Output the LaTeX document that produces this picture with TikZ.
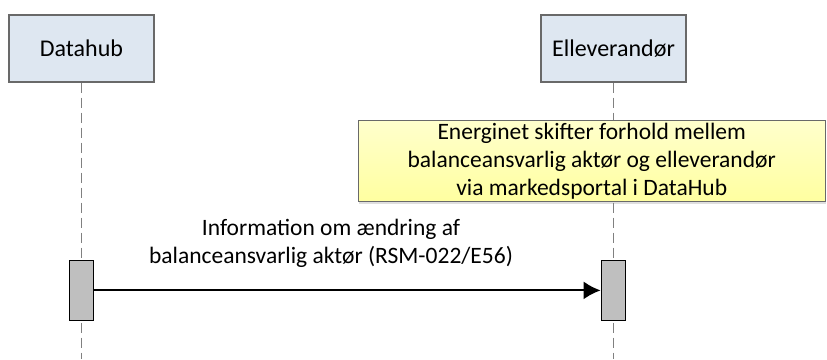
\documentclass[tikz,border=0pt]{standalone}
\usepackage{fontspec}
\setmainfont{Carlito}
\usepackage{tikz}
\usetikzlibrary{positioning,arrows.meta,shadows}
\definecolor{actorblue}{RGB}{222,231,241}
\definecolor{actorline}{RGB}{105,105,105}
\definecolor{bargray}{RGB}{191,191,191}
\definecolor{notetop}{RGB}{255,255,204}
\definecolor{notebot}{RGB}{255,255,160}
\definecolor{lifegray}{RGB}{128,128,128}

\begin{document}
\begin{tikzpicture}[x=1pt,y=-1pt,>={Latex[length=17pt,width=18pt]},
    every node/.style={font=\fontsize{23.5}{28}\selectfont},
    actor/.style={draw=actorline,fill=actorblue,line width=1.3pt,minimum width=145pt,minimum height=67pt,inner sep=0pt},
    bar/.style={draw=black,fill=bargray,line width=1.3pt,minimum width=24.5pt,minimum height=60.5pt,inner sep=0pt},
    lifeline/.style={draw=lifegray,line width=1pt,dash pattern=on 10pt off 5pt}]
    \useasboundingbox (0,0) rectangle (827,359);
    \node[actor] (dh) at (81.5,48.5) {\fontsize{24}{28}\selectfont Datahub};
    \node[actor] (el) at (613.5,48.5) {\fontsize{24}{28}\selectfont Elleverandør};
    \coordinate (dhend) at (81.5,359);
    \coordinate (elend) at (613.5,359);
    \draw[lifeline] (dh.south) -- (dhend);
    \draw[lifeline] (el.south) -- (elend);
    \node[draw=actorline,line width=1pt,top color=notetop,bottom color=notebot,
      minimum width=466.7pt,minimum height=81pt,inner sep=0pt,align=center,
      drop shadow={shadow xshift=1pt,shadow yshift=-2pt,opacity=0.25}]
      (note) at (591.7,161.2) {Energinet skifter forhold mellem\\balanceansvarlig aktør og elleverandør\\via markedsportal i DataHub};
    \node[bar] (a1) at (81.5,290.4) {};
    \node[bar] (a2) at (613.5,290.4) {};
    \draw[->,line width=2pt] (a1) -- (a2);
    \node[align=center,inner sep=0pt] (msg) at (331,243.8) {Information om ændring af\\balanceansvarlig aktør (RSM-022/E56)};
  \end{tikzpicture}
\end{document}
